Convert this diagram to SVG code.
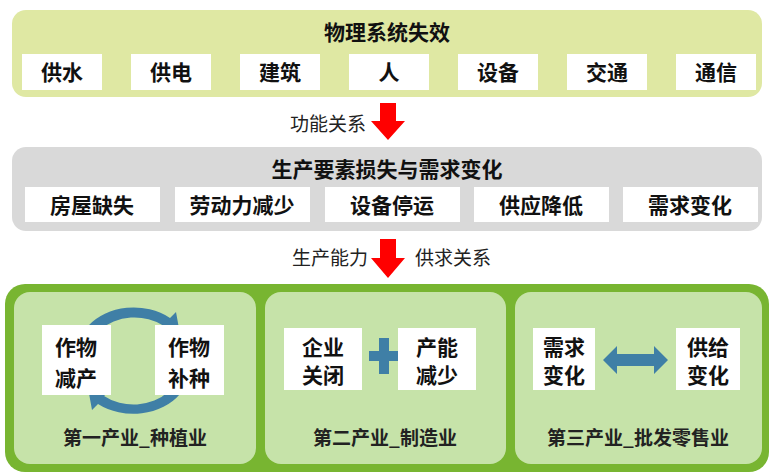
<svg xmlns="http://www.w3.org/2000/svg" width="774" height="476" viewBox="0 0 774 476">
<style>
text{font-family:"Noto Sans CJK SC",sans-serif;font-weight:bold;text-anchor:middle;fill:#111}
.b{fill:#fff}
.t{font-size:21px}
.l{font-size:19px;font-weight:normal;fill:#222}
.s{font-size:19px;fill:#222}
</style>
<rect width="774" height="476" fill="#fff"/>
<g id="physical">
<rect x="12" y="10" width="750" height="87" rx="14" fill="#dfe8a3"/>
<text x="387" y="40" class="t">物理系统失效</text>
<g class="t">
<rect class="b" x="22" y="54" width="80" height="36"/><text x="62" y="80">供水</text>
<rect class="b" x="131" y="54" width="80" height="36"/><text x="171" y="80">供电</text>
<rect class="b" x="240" y="54" width="80" height="36"/><text x="280" y="80">建筑</text>
<rect class="b" x="349" y="54" width="80" height="36"/><text x="389" y="80">人</text>
<rect class="b" x="458" y="54" width="80" height="36"/><text x="498" y="80">设备</text>
<rect class="b" x="567" y="54" width="80" height="36"/><text x="607" y="80">交通</text>
<rect class="b" x="676" y="54" width="80" height="36"/><text x="716" y="80">通信</text>
</g>
</g>
<g id="factors">
<rect x="12" y="147" width="750" height="84" rx="14" fill="#d9d9d9"/>
<text x="387" y="177" class="t">生产要素损失与需求变化</text>
<g class="t">
<rect class="b" x="25" y="187" width="135" height="35"/><text x="92" y="213">房屋缺失</text>
<rect class="b" x="175" y="187" width="135" height="35"/><text x="242" y="213">劳动力减少</text>
<rect class="b" x="325" y="187" width="135" height="35"/><text x="392" y="213">设备停运</text>
<rect class="b" x="474" y="187" width="135" height="35"/><text x="541" y="213">供应降低</text>
<rect class="b" x="623" y="187" width="135" height="35"/><text x="690" y="213">需求变化</text>
</g>
</g>
<g id="connectors">
<path d="M380,103 h16 v18 h9 l-17,19 l-17,-19 h9 z" fill="#f00"/>
<text x="328" y="131" class="l">功能关系</text>
<path d="M380,239 h16 v19 h9 l-17,20 l-17,-20 h9 z" fill="#f00"/>
<text x="330" y="265" class="l">生产能力</text>
<text x="453" y="265" class="l">供求关系</text>
</g>
<g id="industries">
<rect x="5" y="284" width="764" height="188" rx="20" fill="#78b531"/>
<rect x="14" y="292" width="242" height="172" rx="16" fill="#c6e3a9"/>
<rect x="265" y="292" width="241" height="172" rx="16" fill="#c6e3a9"/>
<rect x="515" y="292" width="247" height="172" rx="16" fill="#c6e3a9"/>
</g>
<g id="primary">
<path d="M88,326 A56,44 0 0 1 170,318 l6,-6 l4,22 l-22,-3 l6,-5 A44,33 0 0 0 100,330 z" fill="#3f7fa6"/>
<path d="M180,394 A56,44 0 0 1 98,404 l-6,6 l-4,-22 l22,3 l-6,5 A44,33 0 0 0 168,392 z" fill="#3f7fa6"/>
<rect class="b" x="42" y="325" width="69" height="70"/>
<text x="76" y="355" class="t">作物</text><text x="76" y="386" class="t">减产</text>
<rect class="b" x="155" y="325" width="69" height="70"/>
<text x="189" y="355" class="t">作物</text><text x="189" y="386" class="t">补种</text>
<text x="135" y="445" class="s">第一产业_种植业</text>
</g>
<g id="secondary">
<rect class="b" x="284" y="328" width="78" height="62"/>
<text x="323" y="355" class="t">企业</text><text x="323" y="383" class="t">关闭</text>
<path d="M369,351 h10 v-13 h10 v13 h11 v10 h-11 v13 h-10 v-13 h-10 z" fill="#3f7fa6"/>
<rect class="b" x="398" y="328" width="78" height="62"/>
<text x="437" y="355" class="t">产能</text><text x="437" y="383" class="t">减少</text>
<text x="385" y="445" class="s">第二产业_制造业</text>
</g>
<g id="tertiary">
<rect class="b" x="533" y="328" width="62" height="62"/>
<text x="564" y="355" class="t">需求</text><text x="564" y="383" class="t">变化</text>
<path d="M603,360 l14,-14 v8 h37 v-8 l14,14 l-14,14 v-8 h-37 v8 z" fill="#3f7fa6"/>
<rect class="b" x="676" y="328" width="64" height="62"/>
<text x="708" y="355" class="t">供给</text><text x="708" y="383" class="t">变化</text>
<text x="638" y="445" class="s">第三产业_批发零售业</text>
</g>
</svg>
